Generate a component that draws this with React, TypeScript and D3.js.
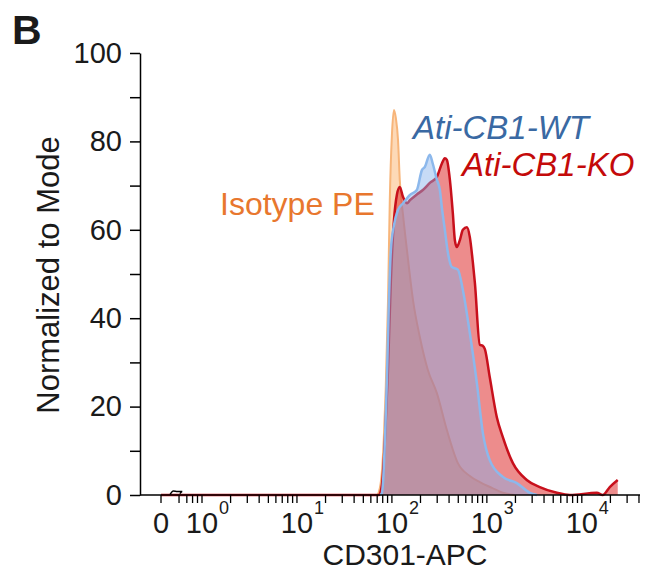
import { useEffect, useRef } from 'react'
import * as d3 from 'd3'

// [CD301-APC intensity, % of mode]
const isotypePE = [
  [71, 0], [77, 3.4], [82, 12.4], [86, 23.8], [91, 44], [95, 66.7], [100, 81.4],
  [105, 87.1], [110, 85.3], [116, 80.3], [121, 71.3], [131, 63.3], [144, 55.4],
  [167, 44], [197, 35.7], [239, 28.3], [298, 23], [379, 14.7], [495, 7.2],
  [661, 4.3], [843, 2.9], [1130, 1.6], [1470, 0.5], [1960, 0],
]

const atiWT = [
  [75, 0], [78, 0.3], [80.5, 2.7], [84.4, 12.4], [88.5, 26], [93, 44], [97.5, 55.4],
  [105, 61], [116, 64.5], [131, 66], [155, 67.9], [183, 69], [207, 73.5], [222, 74.2],
  [251, 77], [269, 75], [298, 71.3], [320, 69], [336, 65], [361, 60], [389, 54.8],
  [427, 51.6], [495, 51], [559, 46.4], [661, 36.7], [785, 25.3], [908, 14],
  [1072, 7.9], [1473, 4.1], [2070, 2.7], [2840, 0.5], [3380, 0],
]

const atiKO = [
  [0, 0], [73, 0], [78.5, 2.3], [84.4, 12.4], [90.8, 28], [97.5, 48.6], [105, 62],
  [113, 68], [121, 69.7], [131, 67.4], [144, 66], [155, 66.7], [183, 68], [212, 69],
  [251, 70.6], [298, 72], [336, 75], [361, 76.2], [379, 75.8], [408, 71.3],
  [438, 63.8], [460, 57.7], [483, 56.1], [520, 57.7], [559, 60], [617, 60.6],
  [661, 58.4], [713, 52.5], [748, 48], [843, 34], [900, 33.8], [953, 33], [1072, 26.7],
  [1273, 17.6], [1473, 13.1], [1880, 7.2], [2630, 3.4], [3610, 1.8], [5460, 0.5],
  [7480, 0], [14400, 0.5], [16600, 0], [19700, 1.8], [23900, 3.4],
]

const zeroEvents = [[0.22, 0.1], [0.3, 0.9], [0.4, 0.8], [0.52, 0.8], [0.46, 0.3]]

const yTicks = [0, 10, 20, 30, 40, 50, 60, 70, 80, 90, 100]
const yLabels = [0, 20, 40, 60, 80, 100]
const lowTicks = [0, 0.44, 0.63, 0.77, 0.89]
const decades = [1, 10, 100, 1000, 10000]
const exponents = ['0', '1', '2', '3', '4']

const series = [
  { name: 'Isotype PE', data: isotypePE, fill: 'rgba(250,170,95,0.45)', stroke: '#f7b57a', lw: 2 },
  { name: 'Ati-CB1-KO', data: atiKO, fill: 'rgba(222,45,45,0.55)', stroke: '#c8101c', lw: 2.5 },
  { name: 'Ati-CB1-WT', data: atiWT, fill: 'rgba(130,175,235,0.45)', stroke: '#8cb8ec', lw: 2.5 },
]

const font = '"Liberation Sans", Arial, sans-serif'

export default function App() {
  const ref = useRef<SVGSVGElement>(null)

  useEffect(() => {
    const svg = d3.select(ref.current)
    svg.selectAll('*').remove()

    // logicle-like x: linear 0..1 then log decades
    const xLow = d3.scaleLinear().domain([0, 1]).range([161, 202])
    const xLog = d3.scaleLog().domain([1, 41000]).range([202, 640])
    const x = (v: number) => (v < 1 ? xLow(v) : xLog(v))
    const y = d3.scaleLinear().domain([0, 100]).range([495, 53])

    const area = d3.area<number[]>()
      .x(d => x(d[0]))
      .y0(y(0))
      .y1(d => y(d[1]))
      .curve(d3.curveMonotoneX)
    const line = d3.line<number[]>()
      .x(d => x(d[0]))
      .y(d => y(d[1]))
      .curve(d3.curveMonotoneX)

    series.forEach(s => {
      svg.append('path').attr('d', area(s.data)).attr('fill', s.fill)
      svg.append('path').attr('d', line(s.data))
        .attr('fill', 'none').attr('stroke', s.stroke)
        .attr('stroke-width', s.lw).attr('stroke-linejoin', 'round')
    })

    svg.append('path').attr('d', line(zeroEvents))
      .attr('fill', 'none').attr('stroke', '#000').attr('stroke-width', 1.5)

    // Y axis
    const yAxis = svg.append('g')
      .attr('transform', 'translate(140,0)')
      .call(d3.axisLeft(y).tickValues(yTicks).tickSize(10).tickSizeOuter(0)
        .tickFormat(d => (yLabels.includes(+d) ? String(d) : '')))
    yAxis.select('.domain').attr('stroke-width', 1.5)
    yAxis.selectAll('line').attr('stroke-width', 1.5)
    yAxis.selectAll('text')
      .attr('x', -18).attr('font-size', 29).attr('font-family', font).attr('fill', '#1a1a1a')

    // X axis
    svg.append('line').attr('x1', 140).attr('x2', 640).attr('y1', 495).attr('y2', 495)
      .attr('stroke', '#000').attr('stroke-width', 1.5)
    const xTickVals = [...lowTicks, ...xLog.ticks()]
    svg.append('g').selectAll('line').data(xTickVals).join('line')
      .attr('x1', d => x(d)).attr('x2', d => x(d))
      .attr('y1', 495).attr('y2', 503)
      .attr('stroke', '#000').attr('stroke-width', 1.3)

    const lab = svg.append('g').attr('font-family', font).attr('fill', '#1a1a1a')
    lab.append('text').attr('x', x(0)).attr('y', 533).attr('text-anchor', 'middle')
      .attr('font-size', 29).text('0')
    decades.forEach((d, i) => {
      lab.append('text').attr('x', x(d)).attr('y', 533).attr('text-anchor', 'middle')
        .attr('font-size', 29).text('10')
      lab.append('text').attr('x', x(d) + 17).attr('y', 514)
        .attr('font-size', 18).text(exponents[i])
    })

    lab.append('text').attr('x', 405).attr('y', 565).attr('text-anchor', 'middle')
      .attr('font-size', 30).text('CD301-APC')
    lab.append('text').attr('transform', 'translate(59,275) rotate(-90)')
      .attr('text-anchor', 'middle').attr('font-size', 31).text('Normalized to Mode')
    lab.append('text').attr('x', 12).attr('y', 44).attr('font-size', 41)
      .attr('font-weight', 'bold').text('B')

    // series labels
    svg.append('text').attr('x', 220).attr('y', 215).attr('font-family', font)
      .attr('font-size', 32).attr('fill', '#e8772e').text('Isotype PE')
    svg.append('text').attr('x', 413).attr('y', 139).attr('font-family', font)
      .attr('font-size', 33).attr('font-style', 'italic').attr('fill', '#3a69a3').text('Ati-CB1-WT')
    svg.append('text').attr('x', 462).attr('y', 176).attr('font-family', font)
      .attr('font-size', 33).attr('font-style', 'italic').attr('fill', '#c40a0a').text('Ati-CB1-KO')
  }, [])

  return (
    <svg ref={ref} width={645} height={575}
      style={{ position: 'absolute', left: 0, top: 0, background: '#fff' }} />
  )
}
